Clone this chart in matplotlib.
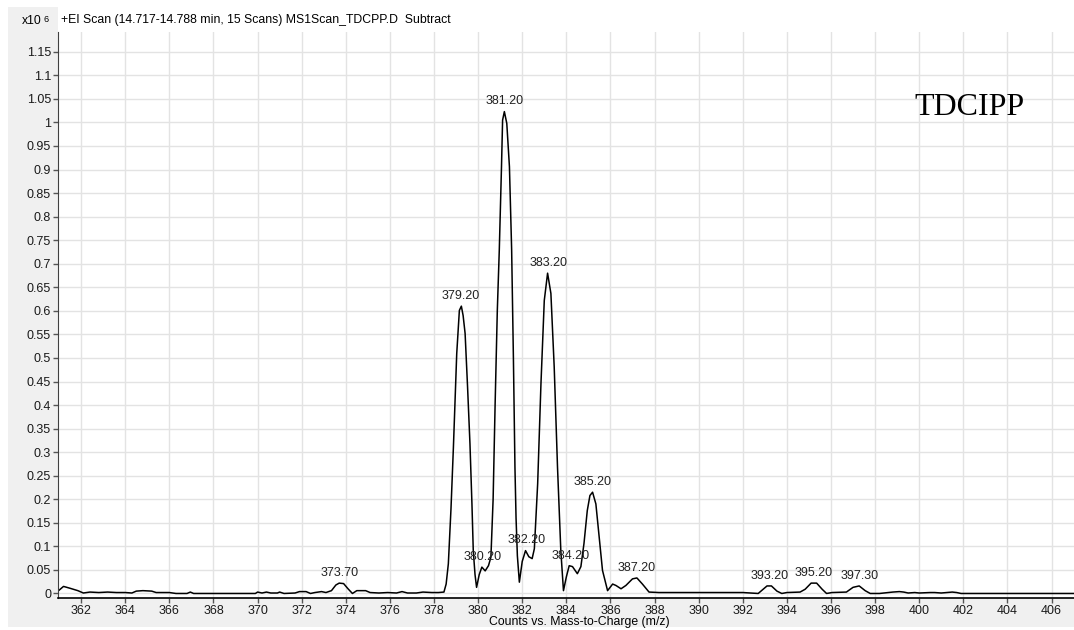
import matplotlib
matplotlib.use("Agg")
import matplotlib.pyplot as plt
from matplotlib.patches import Rectangle
from matplotlib.ticker import FuncFormatter
import numpy as np

plt.rcParams['font.family'] = ['Liberation Sans', 'DejaVu Sans']

# profile spectrum (m/z, counts x10^6)
mz = [361.0, 361.2, 361.5, 361.85, 362.1, 362.4, 362.8, 363.2, 363.6, 364.0,
      364.3, 364.5, 364.8, 365.2, 365.4, 366.0, 366.3, 366.8, 366.95, 367.1,
      368.0, 369.0, 369.9, 370.0, 370.2, 370.4, 370.6, 370.9, 371.0, 371.2,
      371.7, 371.9, 372.2, 372.4, 372.6, 372.9, 373.1, 373.35, 373.55, 373.7,
      373.9, 374.1, 374.3, 374.5, 374.9, 375.1, 375.5, 375.9, 376.3, 376.55,
      376.8, 377.2, 377.5, 377.9, 378.2, 378.45, 378.55, 378.65, 378.77, 378.88,
      379.03, 379.15, 379.24, 379.32, 379.41, 379.52, 379.63, 379.72, 379.78, 379.86,
      379.93, 380.05, 380.17, 380.32, 380.47, 380.58, 380.68, 380.77, 380.87, 380.96,
      381.02, 381.06, 381.11, 381.19, 381.3, 381.42, 381.52, 381.6, 381.67, 381.72,
      381.78, 381.87, 382.0, 382.15, 382.3, 382.45, 382.55, 382.7, 382.85, 383.0,
      383.15, 383.3, 383.45, 383.6, 383.75, 383.87, 384.0, 384.13, 384.28, 384.5,
      384.66, 384.8, 384.95, 385.07, 385.19, 385.34, 385.49, 385.64, 385.87, 386.1,
      386.25, 386.48, 386.7, 387.0, 387.2, 387.45, 387.75, 388.2, 389.0, 390.0,
      391.0, 392.0, 392.7, 392.9, 393.1, 393.3, 393.55, 393.77, 394.0, 394.6,
      394.83, 395.1, 395.35, 395.6, 395.8, 396.05, 396.7, 397.0, 397.28, 397.55,
      397.78, 398.2, 398.6, 398.8, 399.1, 399.3, 399.5, 399.8, 400.0, 400.5,
      400.7, 401.0, 401.5, 401.7, 401.9, 407.0]
counts = [0.007, 0.015, 0.011, 0.006, 0.001, 0.003, 0.002, 0.003, 0.002, 0.002,
          0.001, 0.005, 0.006, 0.005, 0.002, 0.002, 0.000, 0.000, 0.003, 0.000,
          0.000, 0.000, 0.000, 0.003, 0.001, 0.003, 0.001, 0.001, 0.003, 0.000,
          0.001, 0.004, 0.004, 0.000, 0.002, 0.004, 0.002, 0.006, 0.018, 0.022,
          0.021, 0.010, 0.000, 0.006, 0.006, 0.002, 0.001, 0.002, 0.001, 0.004,
          0.001, 0.001, 0.003, 0.002, 0.002, 0.003, 0.020, 0.063, 0.180, 0.311,
          0.509, 0.601, 0.610, 0.590, 0.552, 0.440, 0.318, 0.190, 0.091, 0.040,
          0.013, 0.040, 0.056, 0.048, 0.059, 0.077, 0.200, 0.400, 0.600, 0.729,
          0.835, 0.906, 1.005, 1.023, 0.998, 0.906, 0.730, 0.500, 0.268, 0.160,
          0.080, 0.024, 0.068, 0.091, 0.078, 0.074, 0.095, 0.233, 0.446, 0.622,
          0.680, 0.637, 0.481, 0.268, 0.091, 0.006, 0.035, 0.059, 0.057, 0.042,
          0.057, 0.106, 0.176, 0.208, 0.215, 0.190, 0.120, 0.049, 0.006, 0.020,
          0.017, 0.010, 0.017, 0.031, 0.033, 0.020, 0.003, 0.002, 0.002, 0.002,
          0.002, 0.002, 0.000, 0.008, 0.016, 0.016, 0.005, 0.000, 0.002, 0.003,
          0.009, 0.022, 0.022, 0.009, 0.000, 0.002, 0.003, 0.013, 0.016, 0.006,
          0.000, 0.000, 0.002, 0.003, 0.004, 0.003, 0.001, 0.002, 0.001, 0.002,
          0.002, 0.001, 0.003, 0.002, 0.000, 0.000]

# labelled peaks
peak_mz = [373.70, 379.20, 380.20, 381.20, 382.20, 383.20, 384.20, 385.20,
           387.20, 393.20, 395.20, 397.30]
peak_counts = [0.022, 0.610, 0.056, 1.023, 0.091, 0.680, 0.059, 0.215,
               0.033, 0.016, 0.022, 0.016]

header = "+EI Scan (14.717-14.788 min, 15 Scans) MS1Scan_TDCPP.D  Subtract"
compound = "TDCIPP"
x_ticks = list(range(362, 407, 2))
y_ticks = [round(0.05 * i, 2) for i in range(24)]

W, H = 1074, 630
fig = plt.figure(figsize=(W / 100, H / 100), dpi=100, facecolor='white')

# grey panel (left strip + bottom strip), white header area
fig.patches.append(Rectangle((8 / W, 3 / H), 1066 / W, 620 / H, transform=fig.transFigure,
                             facecolor='#f0f0f0', edgecolor='none', zorder=-2))
fig.patches.append(Rectangle((58 / W, (H - 32) / H), 1016 / W, 25 / H, transform=fig.transFigure,
                             facecolor='white', edgecolor='none', zorder=-1))

ax = fig.add_axes([58 / W, 1 - 598 / H, 1016 / W, 566 / H])
ax.set_zorder(2)
ax.set_facecolor('white')
ax.plot(mz, counts, color='black', lw=1.1)

for m, c in zip(peak_mz, peak_counts):
    ax.annotate(f"{m:.2f}", (m, c), xytext=(0, 3), textcoords='offset points',
                ha='center', va='bottom', fontsize=9, color='#222222')

ax.set_xlim(360.95, 407.02)
ax.set_ylim(-0.0096, 1.192)
ax.set_xticks(x_ticks)
ax.set_yticks(y_ticks)
ax.yaxis.set_major_formatter(FuncFormatter(lambda v, p: f"{v:g}"))
ax.grid(True, color='#e3e3e3', lw=1.0)
ax.set_axisbelow(True)
for s in ['top', 'right']:
    ax.spines[s].set_visible(False)
ax.spines['left'].set_color('#404040')
ax.spines['bottom'].set_color('black')
ax.spines['bottom'].set_linewidth(1.2)
ax.tick_params(axis='both', labelsize=9, colors='#555555', labelcolor='#1a1a1a',
               length=3.5, width=1, pad=1.5)

ax.text(0.897, 0.866, compound, transform=ax.transAxes, ha='center', va='center',
        fontsize=23, family='Liberation Serif', color='black')

fig.text(61 / W, 1 - 20 / H, header, ha='left', va='center', fontsize=8.8)
fig.text(42 / W, 1 - 21 / H, "x10", ha='right', va='center', fontsize=8.8)
fig.text(43 / W, 1 - 19 / H, "6", ha='left', va='center', fontsize=6.5)
fig.text(579 / W, 1 - 622 / H, "Counts vs. Mass-to-Charge (m/z)", ha='center',
         va='center', fontsize=8.8)

fig.savefig("out.png", dpi=100, facecolor='white')
